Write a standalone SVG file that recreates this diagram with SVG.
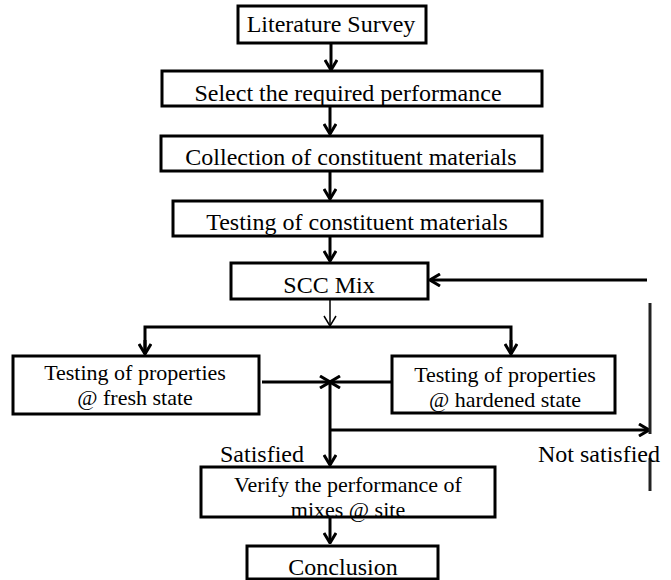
<svg xmlns="http://www.w3.org/2000/svg" width="671" height="580" viewBox="0 0 671 580">
<style>
.box{fill:#fff;stroke:#000;stroke-width:3}
.t{font-family:"Liberation Serif","Times New Roman",serif;font-size:24px;fill:#000;text-anchor:middle}
.t2{font-size:22px}
.c{fill:none;stroke:#000;stroke-width:3}
.thin{fill:none;stroke:#000;stroke-width:1.5}
</style>
<defs>
<marker id="ah" viewBox="0 0 12 14" refX="11" refY="7" markerWidth="12" markerHeight="14" markerUnits="userSpaceOnUse" orient="auto">
<path d="M1,1 L11,7 L1,13" fill="none" stroke="#000" stroke-width="3"/>
</marker>
<marker id="ahThin" viewBox="0 0 12 14" refX="11" refY="7" markerWidth="12" markerHeight="14" markerUnits="userSpaceOnUse" orient="auto">
<path d="M1,1 L11,7 L1,13" fill="none" stroke="#000" stroke-width="1.5"/>
</marker>
</defs>
<rect width="671" height="580" fill="#fff"/>
<g id="connectors">
<line class="c" x1="331" y1="43" x2="331" y2="70" marker-end="url(#ah)"/>
<line class="c" x1="330" y1="107" x2="330" y2="134" marker-end="url(#ah)"/>
<line class="c" x1="330" y1="172" x2="330" y2="199" marker-end="url(#ah)"/>
<line class="c" x1="330" y1="236" x2="330" y2="261" marker-end="url(#ah)"/>
<line class="c" x1="647" y1="280" x2="430" y2="280" marker-end="url(#ah)"/>
<line class="thin" x1="330" y1="299" x2="330" y2="326" marker-end="url(#ahThin)"/>
<polyline class="c" points="145,354 145,327 511,327 511,354"/>
<line class="c" x1="145" y1="340" x2="145" y2="354" marker-end="url(#ah)"/>
<line class="c" x1="511" y1="340" x2="511" y2="354" marker-end="url(#ah)"/>
<line class="c" x1="262" y1="382" x2="330" y2="382" marker-end="url(#ah)"/>
<line class="c" x1="392" y1="382" x2="330" y2="382" marker-end="url(#ah)"/>
<line class="c" x1="330" y1="382" x2="330" y2="465" marker-end="url(#ah)"/>
<line class="c" x1="330" y1="430" x2="649" y2="430" marker-end="url(#ah)"/>
<line x1="650" y1="303" x2="650" y2="434" stroke="#222" stroke-width="3"/>
<line x1="650" y1="458" x2="650" y2="491" stroke="#222" stroke-width="3"/>
<line class="c" x1="330" y1="517" x2="330" y2="543" marker-end="url(#ah)"/>
<text class="t" x="262" y="462">Satisfied</text>
<text class="t" x="599" y="462">Not satisfied</text>
</g>
<g id="n1"><rect class="box" x="238" y="6" width="188" height="37"/><text class="t" x="331" y="32">Literature Survey</text></g>
<g id="n2"><rect class="box" x="162" y="71" width="380" height="35"/><text class="t" x="348" y="101">Select the required performance</text></g>
<g id="n3"><rect class="box" x="161" y="136" width="381" height="35"/><text class="t" x="351" y="165">Collection of constituent materials</text></g>
<g id="n4"><rect class="box" x="173" y="201" width="369" height="35"/><text class="t" x="357" y="230">Testing of constituent materials</text></g>
<g id="n5"><rect class="box" x="231" y="263" width="197" height="36"/><text class="t" x="329" y="293">SCC Mix</text></g>
<g id="n6"><rect class="box" x="13" y="356" width="246" height="58"/><text class="t t2" x="135" y="380">Testing of properties</text><text class="t t2" x="135" y="405">@ fresh state</text></g>
<g id="n7"><rect class="box" x="392" y="356" width="223" height="57"/><text class="t t2" x="505" y="382">Testing of properties</text><text class="t t2" x="505" y="407">@ hardened state</text></g>
<g id="n8"><rect class="box" x="201" y="467" width="294" height="50"/><text class="t t2" x="348" y="492">Verify the performance of</text><text class="t t2" x="348" y="517">mixes @ site</text></g>
<g id="n9"><rect class="box" x="247" y="546" width="191" height="33"/><text class="t" x="343" y="575">Conclusion</text></g>
</svg>
